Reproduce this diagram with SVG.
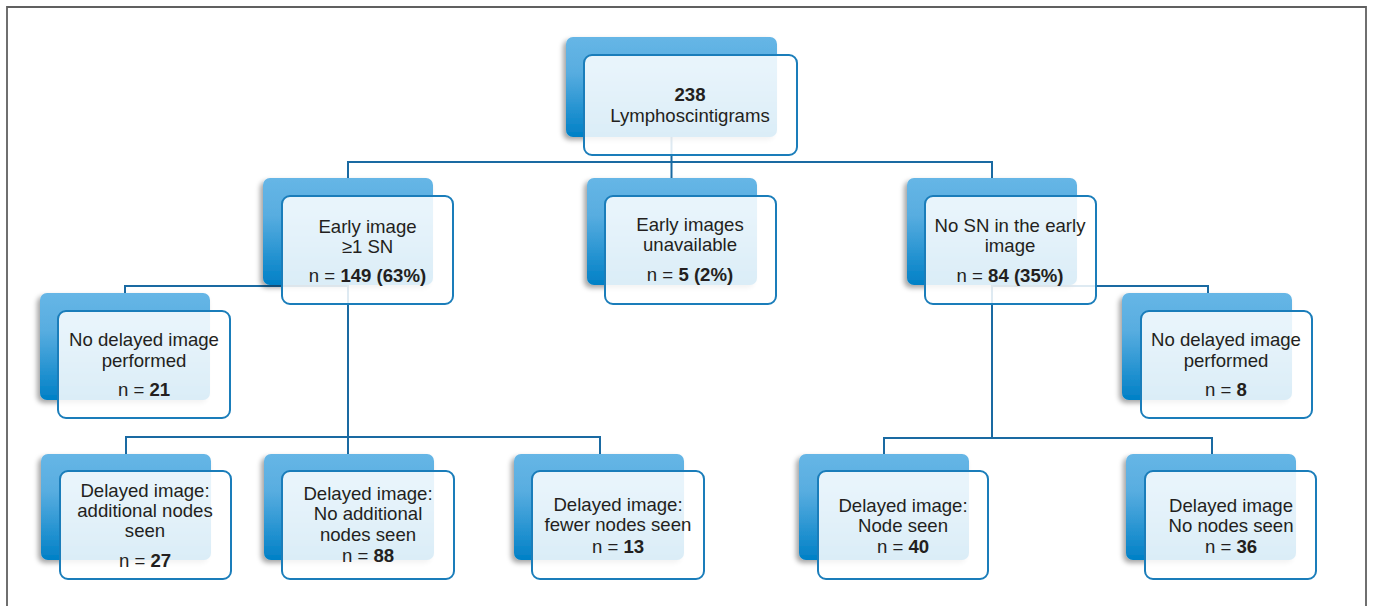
<svg xmlns="http://www.w3.org/2000/svg" width="1373" height="606" viewBox="0 0 1373 606">
<defs>
<linearGradient id="backGrad" x1="0" y1="0" x2="0" y2="1">
<stop offset="0" stop-color="#66b6e6"/>
<stop offset="0.35" stop-color="#58ade0"/>
<stop offset="1" stop-color="#0080c6"/>
</linearGradient>
<filter id="shadow" x="-20%" y="-20%" width="140%" height="140%">
<feDropShadow dx="-3" dy="3" stdDeviation="2.5" flood-color="#000" flood-opacity="0.35"/>
</filter>
<style>
.back{fill:url(#backGrad);filter:url(#shadow);}
.front{fill:#ffffff;fill-opacity:0.86;stroke:#1a7dba;stroke-width:2;}
.conn{fill:none;stroke:#1a6aa2;stroke-width:2;}
text{font-family:"Liberation Sans",Arial,sans-serif;font-size:18.6px;fill:#231f20;text-anchor:middle;}
.b{font-weight:bold;}
</style>
</defs>
<rect width="1373" height="606" fill="#ffffff"/>
<path d="M7,606 V7 H1366 V606" fill="none" stroke="#606060" stroke-width="1.8"/>
<g id="connectors" class="conn">
<path d="M671.5,137 V178"/>
<path d="M348,178 V162 H992 V178"/>
<path d="M348,285 V454"/>
<path d="M348,286 H125 V293"/>
<path d="M126,454 V437 H600 V454"/>
<path d="M992,285 V438"/>
<path d="M992,286 H1208 V293"/>
<path d="M884,454 V438 H1212 V454"/>
</g>
<g id="node-root">
<rect class="back" x="566" y="37" width="211" height="100" rx="7"/>
<rect class="front" x="584" y="55" width="213" height="100" rx="8"/>
<text x="690" y="101" class="b">238</text>
<text x="690" y="122">Lymphoscintigrams</text>
</g>
<g id="node-early">
<rect class="back" x="263" y="178" width="170" height="107" rx="7"/>
<rect class="front" x="282" y="196" width="171" height="108" rx="8"/>
<text x="367.5" y="233">Early image</text>
<text x="367.5" y="253">≥1 SN</text>
<text x="367.5" y="282">n = <tspan class="b">149 (63%)</tspan></text>
</g>
<g id="node-unavailable">
<rect class="back" x="587" y="178" width="170" height="107" rx="7"/>
<rect class="front" x="605" y="196" width="171" height="108" rx="8"/>
<text x="690" y="231">Early images</text>
<text x="690" y="251">unavailable</text>
<text x="690" y="281">n = <tspan class="b">5 (2%)</tspan></text>
</g>
<g id="node-nosn">
<rect class="back" x="907" y="178" width="170" height="107" rx="7"/>
<rect class="front" x="925" y="196" width="171" height="108" rx="8"/>
<text x="1010" y="232">No SN in the early</text>
<text x="1010" y="252">image</text>
<text x="1010" y="282">n = <tspan class="b">84 (35%)</tspan></text>
</g>
<g id="node-nodelayed-left">
<rect class="back" x="40" y="293" width="170" height="107" rx="7"/>
<rect class="front" x="58" y="311" width="172" height="107" rx="8"/>
<text x="144" y="346">No delayed image</text>
<text x="144" y="367">performed</text>
<text x="144" y="396">n = <tspan class="b">21</tspan></text>
</g>
<g id="node-nodelayed-right">
<rect class="back" x="1122" y="293" width="170" height="107" rx="7"/>
<rect class="front" x="1141" y="311" width="171" height="107" rx="8"/>
<text x="1226" y="346">No delayed image</text>
<text x="1226" y="367">performed</text>
<text x="1226" y="396">n = <tspan class="b">8</tspan></text>
</g>
<g id="node-additional">
<rect class="back" x="41" y="454" width="170" height="106" rx="7"/>
<rect class="front" x="60" y="471" width="171" height="108" rx="8"/>
<text x="145" y="497">Delayed image:</text>
<text x="145" y="517">additional nodes</text>
<text x="145" y="537">seen</text>
<text x="145" y="567">n = <tspan class="b">27</tspan></text>
</g>
<g id="node-noadditional">
<rect class="back" x="264" y="454" width="170" height="106" rx="7"/>
<rect class="front" x="282" y="471" width="172" height="108" rx="8"/>
<text x="368" y="500">Delayed image:</text>
<text x="368" y="520">No additional</text>
<text x="368" y="541">nodes seen</text>
<text x="368" y="562">n = <tspan class="b">88</tspan></text>
</g>
<g id="node-fewer">
<rect class="back" x="514" y="454" width="170" height="106" rx="7"/>
<rect class="front" x="532" y="471" width="172" height="108" rx="8"/>
<text x="618" y="511">Delayed image:</text>
<text x="618" y="531">fewer nodes seen</text>
<text x="618" y="553">n = <tspan class="b">13</tspan></text>
</g>
<g id="node-nodeseen">
<rect class="back" x="799" y="454" width="170" height="106" rx="7"/>
<rect class="front" x="818" y="471" width="170" height="108" rx="8"/>
<text x="903" y="512">Delayed image:</text>
<text x="903" y="532">Node seen</text>
<text x="903" y="553">n = <tspan class="b">40</tspan></text>
</g>
<g id="node-nonodes">
<rect class="back" x="1126" y="454" width="170" height="106" rx="7"/>
<rect class="front" x="1145" y="471" width="171" height="108" rx="8"/>
<text x="1231" y="512">Delayed image</text>
<text x="1231" y="532">No nodes seen</text>
<text x="1231" y="553">n = <tspan class="b">36</tspan></text>
</g>
</svg>
